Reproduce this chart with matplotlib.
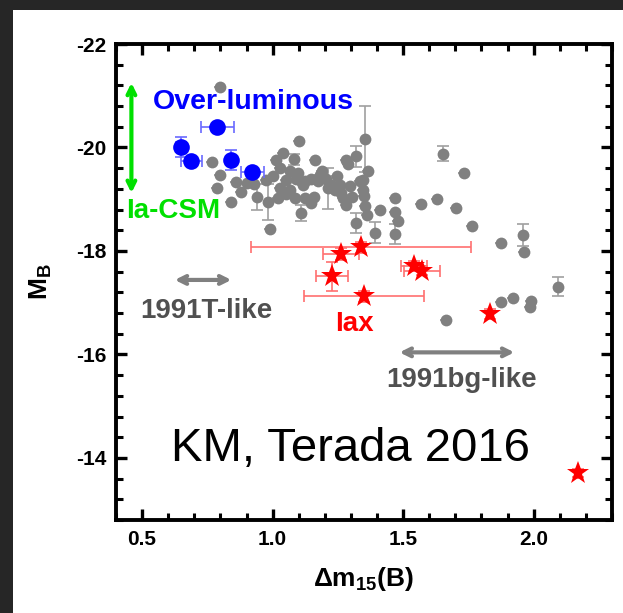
import matplotlib
matplotlib.use("Agg")
import matplotlib.pyplot as plt
from matplotlib.patches import Rectangle
from matplotlib.ticker import MultipleLocator

plt.rcParams['font.family'] = ['Liberation Sans', 'DejaVu Sans']
plt.rcParams['mathtext.fontset'] = 'custom'
plt.rcParams['mathtext.rm'] = 'Liberation Sans'
plt.rcParams['mathtext.bf'] = 'Liberation Sans:bold'
plt.rcParams['mathtext.it'] = 'Liberation Sans:italic'
plt.rcParams['axes.unicode_minus'] = False

# --- normal SNe Ia (grey) ---
grey_dm15 = [0.799, 0.768, 0.799, 0.787, 0.841, 0.860, 0.879, 0.902, 0.940, 0.982,
             0.990, 1.001, 1.040, 1.082, 1.101, 1.013, 1.028, 1.066, 1.051, 1.089,
             1.124, 1.028, 1.066, 1.086, 1.124, 1.020, 1.108, 1.147, 1.162, 1.097,
             1.147, 1.181, 1.204, 1.174, 1.223, 1.258, 1.239, 1.262, 1.296, 1.269,
             1.281, 1.212, 1.281, 1.288, 1.319, 1.353, 1.365, 1.346, 1.334, 1.346,
             1.350, 1.353, 1.361, 1.319, 1.392, 1.411, 1.468, 1.468, 1.480, 1.468,
             1.568, 1.629, 1.702, 1.732, 1.652, 1.763, 1.874, 1.958, 1.962, 2.092,
             1.874, 1.920, 1.989, 1.985, 1.663, 0.975, 1.050, 1.115, 1.190, 1.245,
             1.305, 0.930, 1.160]
grey_mb = [-21.17, -19.71, -19.46, -19.21, -18.94, -19.33, -19.13, -19.31, -19.04, -18.94,
           -18.42, -19.44, -19.90, -19.77, -20.13, -19.75, -19.60, -19.54, -19.37, -19.40,
           -19.35, -19.21, -19.17, -19.02, -19.02, -19.02, -18.73, -18.92, -19.75, -19.50,
           -19.40, -19.46, -19.40, -19.35, -19.27, -19.27, -19.17, -19.12, -19.25, -19.02,
           -18.88, -19.21, -19.75, -19.69, -19.83, -20.17, -19.54, -19.38, -19.35, -19.17,
           -19.06, -18.87, -18.69, -18.54, -18.35, -18.79, -19.02, -18.75, -18.58, -18.33,
           -18.90, -19.00, -18.83, -19.50, -19.88, -18.48, -18.15, -18.31, -17.98, -17.31,
           -17.02, -17.10, -17.04, -16.92, -16.67, -19.37, -19.10, -19.28, -19.55, -19.45,
           -19.05, -19.30, -19.05]
grey_mb_err = [0.0, 0.0, 0.0, 0.0, 0.0, 0.0, 0.0, 0.0, 0.25, 0.35,
               0.0, 0.0, 0.0, 0.10, 0.0, 0.0, 0.0, 0.0, 0.0, 0.0,
               0.0, 0.0, 0.0, 0.0, 0.0, 0.0, 0.15, 0.0, 0.0, 0.0,
               0.0, 0.0, 0.0, 0.0, 0.0, 0.0, 0.0, 0.0, 0.0, 0.0,
               0.0, 0.40, 0.0, 0.0, 0.20, 0.64, 0.0, 0.0, 0.0, 0.0,
               0.0, 0.0, 0.0, 0.20, 0.20, 0.0, 0.0, 0.0, 0.0, 0.20,
               0.0, 0.0, 0.0, 0.0, 0.15, 0.0, 0.0, 0.22, 0.0, 0.18,
               0.0, 0.0, 0.0, 0.0, 0.0, 0.0, 0.0, 0.0, 0.0, 0.0,
               0.0, 0.0, 0.0]

# --- over-luminous SNe Ia (blue) ---
blue_dm15 = [0.648, 0.689, 0.788, 0.842, 0.922]
blue_mb = [-20.01, -19.74, -20.40, -19.76, -19.53]
blue_dm15_err = [0.02, 0.04, 0.063, 0.0, 0.044]
blue_mb_err = [0.20, 0.05, 0.0, 0.20, 0.0]

# --- SNe Iax (red stars) ---
iax_dm15 = [1.339, 1.262, 1.228, 1.350, 1.541, 1.572, 1.831, 2.171]
iax_mb = [-18.07, -17.94, -17.51, -17.12, -17.71, -17.62, -16.78, -13.71]
iax_dm15_err = [0.42, 0.07, 0.06, 0.23, 0.05, 0.07, 0.0, 0.0]
iax_mb_err = [0.10, 0.12, 0.28, 0.10, 0.10, 0.08, 0.10, 0.08]

fig = plt.figure(figsize=(6.23, 6.13), dpi=100)
fig.patch.set_facecolor('white')
# dark frame strips on the left and top edges
fig.patches.append(Rectangle((0, 0), 13 / 623, 1, transform=fig.transFigure,
                             facecolor='#262626', edgecolor='none', zorder=-10))
fig.patches.append(Rectangle((0, 1 - 10 / 613), 1, 10 / 613, transform=fig.transFigure,
                             facecolor='#262626', edgecolor='none', zorder=-10))

ax = fig.add_axes([116 / 623, 1 - 520 / 613, 496 / 623, 476 / 613])

# grey sample
ax.errorbar(grey_dm15, grey_mb, yerr=grey_mb_err, fmt='none', ecolor='#a0a0a0',
            elinewidth=1.2, capsize=4, capthick=1.2, zorder=2)
ax.plot(grey_dm15, grey_mb, 'o', color='#808080', markersize=8.5,
        markeredgewidth=0, zorder=3)

# Iax stars
ax.errorbar(iax_dm15, iax_mb, xerr=iax_dm15_err, yerr=iax_mb_err, fmt='none',
            ecolor='#ff7070', elinewidth=1.2, capsize=4, capthick=1.2, zorder=4)
ax.plot(iax_dm15, iax_mb, '*', color='#ff0000', markersize=17,
        markeredgewidth=0, zorder=5)

# over-luminous
ax.errorbar(blue_dm15, blue_mb, xerr=blue_dm15_err, yerr=blue_mb_err, fmt='none',
            ecolor='#6a6aff', elinewidth=1.2, capsize=4, capthick=1.2, zorder=6)
ax.plot(blue_dm15, blue_mb, 'o', color='#0000ff', markersize=12,
        markeredgewidth=0, zorder=7)

ax.set_xlim(0.4, 2.3)
ax.set_ylim(-12.8, -22)

ax.xaxis.set_major_locator(MultipleLocator(0.5))
ax.xaxis.set_minor_locator(MultipleLocator(0.1))
ax.yaxis.set_major_locator(MultipleLocator(2))
ax.yaxis.set_minor_locator(MultipleLocator(0.4))
ax.tick_params(which='both', direction='in', top=True, right=True, colors='black')
ax.tick_params(which='major', length=8, width=2.4, labelsize=15, pad=7)
ax.tick_params(which='minor', length=5, width=2.2)
for lab in ax.get_xticklabels() + ax.get_yticklabels():
    lab.set_fontweight('bold')
for sp in ax.spines.values():
    sp.set_linewidth(2.8)

ax.set_xlabel(r'$\mathbf{Δm_{15}(B)}$', fontsize=19, labelpad=12)
ax.set_ylabel(r'$\mathbf{M_B}$', fontsize=19, labelpad=16)

# annotations
ax.annotate('', xy=(0.459, -21.25), xytext=(0.459, -19.12),
            arrowprops=dict(arrowstyle='<->', color='#00e000', lw=3,
                            mutation_scale=14, shrinkA=0, shrinkB=0))
ax.text(0.44, -18.78, 'Ia-CSM', color='#00e000', fontsize=20, fontweight='bold',
        ha='left', va='center')
ax.text(0.925, -20.88, 'Over-luminous', color='#0000ff', fontsize=20.5,
        fontweight='bold', ha='center', va='center')

ax.annotate('', xy=(0.625, -17.44), xytext=(0.842, -17.44),
            arrowprops=dict(arrowstyle='<->', color='#808080', lw=3,
                            mutation_scale=14, shrinkA=0, shrinkB=0))
ax.text(0.746, -16.83, '1991T-like', color='#505050', fontsize=20,
        fontweight='bold', ha='center', va='center')

ax.text(1.315, -16.58, 'Iax', color='#ff0000', fontsize=20, fontweight='bold',
        ha='center', va='center')

ax.annotate('', xy=(1.486, -16.04), xytext=(1.926, -16.04),
            arrowprops=dict(arrowstyle='<->', color='#808080', lw=3,
                            mutation_scale=14, shrinkA=0, shrinkB=0))
ax.text(1.725, -15.51, '1991bg-like', color='#505050', fontsize=20,
        fontweight='bold', ha='center', va='center')

ax.text(1.298, -14.17, 'KM, Terada 2016', color='black', fontsize=34,
        ha='center', va='center')

fig.savefig('out.png', dpi=100, facecolor='white')
